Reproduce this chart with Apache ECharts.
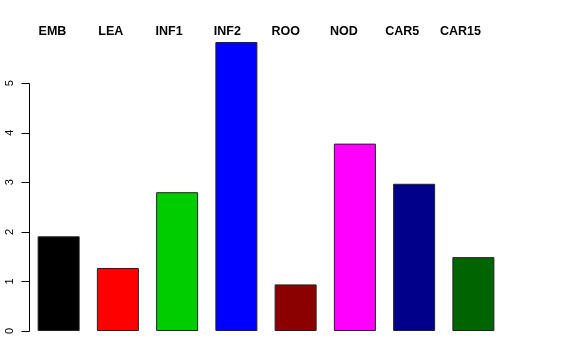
<!DOCTYPE html>
<html>
<head>
<meta charset="utf-8">
<script src="https://cdn.jsdelivr.net/npm/echarts@6/dist/echarts.min.js"></script>
<style>html,body{margin:0;padding:0;background:#fff}#c{width:576px;height:360px}</style>
</head>
<body>
<div id="c"></div>
<script>
var categories = ['EMB', 'LEA', 'INF1', 'INF2', 'ROO', 'NOD', 'CAR5', 'CAR15'];
var values = [1.91, 1.27, 2.80, 5.83, 0.94, 3.78, 2.97, 1.49];
var barColors = ['#000000', '#FF0000', '#00CD00', '#0000FF', '#8B0000', '#FF00FF', '#00008B', '#006400'];
var yTicks = [0, 1, 2, 3, 4, 5];

var font = "'Liberation Sans', Arial, Helvetica, sans-serif";
var chart = echarts.init(document.getElementById('c'), null, {renderer: 'canvas'});
chart.setOption({
  animation: false,
  backgroundColor: '#fff',
  grid: [
    {left: 29, right: 73, top: 42, bottom: 29},
    {left: 23.35, right: 86.35, top: 42, height: 10}
  ],
  xAxis: [
    {type: 'category', gridIndex: 0, data: categories, axisLine: {show: false}, axisTick: {show: false}, axisLabel: {show: false}},
    {type: 'category', gridIndex: 1, position: 'top', data: categories,
     axisLine: {show: false}, axisTick: {show: false},
     axisLabel: {show: true, interval: 0, margin: 4, color: '#000', fontFamily: font, fontWeight: 'bold', fontSize: 12.5}}
  ],
  yAxis: [
    {type: 'value', gridIndex: 0, min: 0, max: 'dataMax',
     splitLine: {show: false}, axisLine: {show: false}, axisTick: {show: false},
     axisLabel: {show: true, customValues: yTicks, rotate: 90, margin: 14, color: '#000', fontFamily: font, fontSize: 11}},
    {type: 'value', gridIndex: 1, show: false}
  ],
  series: [
    {type: 'bar', xAxisIndex: 0, yAxisIndex: 0, barWidth: 42,
     data: values.map(function (v, i) { return {value: v, itemStyle: {color: barColors[i]}}; }),
     itemStyle: {borderColor: '#222', borderWidth: 1}},
    {type: 'custom', xAxisIndex: 0, yAxisIndex: 0, silent: true,
     data: yTicks.map(function (t, i) { return [0, t, i === 0 ? yTicks[yTicks.length - 1] : t]; }),
     renderItem: function (params, api) {
       var x = Math.round(params.coordSys.x) + 0.5;
       var yt = Math.round(api.coord([0, api.value(1)])[1]) + 0.5;
       var children = [{type: 'line', shape: {x1: x - 8, y1: yt, x2: x, y2: yt}, style: {stroke: '#000', lineWidth: 1}}];
       if (api.value(2) !== api.value(1)) {
         var y1 = Math.round(api.coord([0, api.value(2)])[1]) + 0.5;
         children.push({type: 'line', shape: {x1: x, y1: yt, x2: x, y2: y1}, style: {stroke: '#000', lineWidth: 1}});
       }
       return {type: 'group', children: children};
     }}
  ]
});
</script>
</body>
</html>
